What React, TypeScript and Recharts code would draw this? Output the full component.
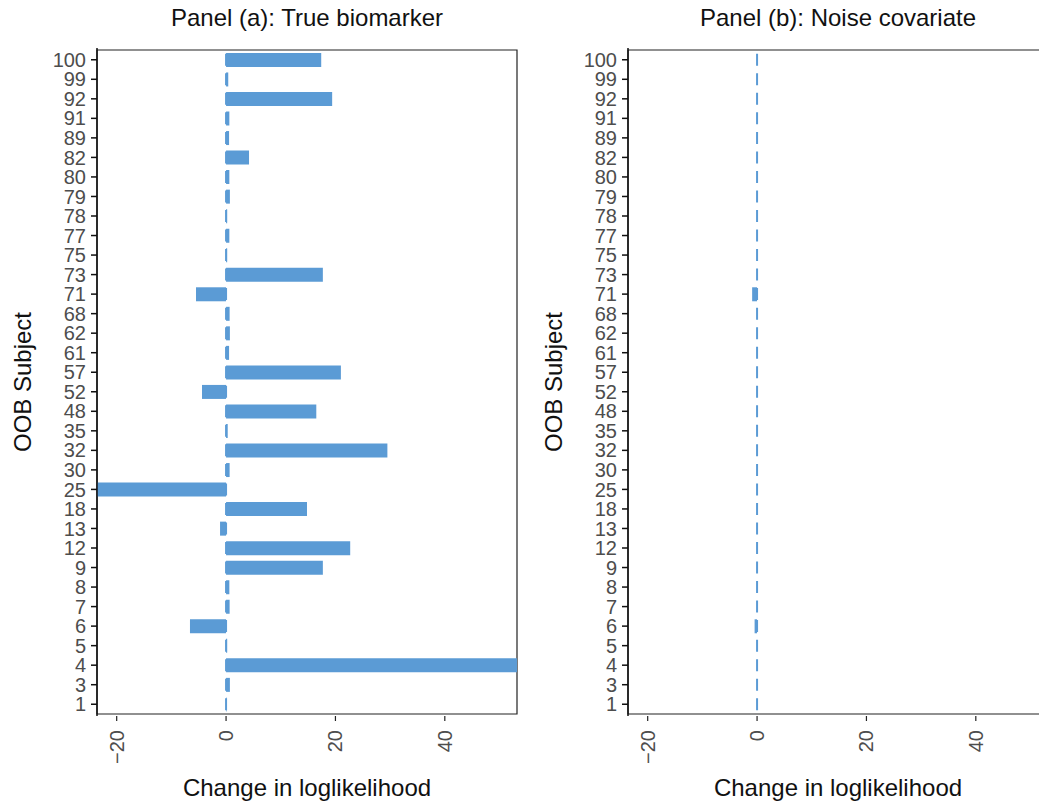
import { BarChart, Bar, XAxis, YAxis, ReferenceLine, ReferenceArea } from "recharts";

const subjects = [
  "100", "99", "92", "91", "89", "82", "80", "79", "78", "77",
  "75", "73", "71", "68", "62", "61", "57", "52", "48", "35",
  "32", "30", "25", "18", "13", "12", "9", "8", "7", "6",
  "5", "4", "3", "1",
];

// change in loglikelihood, panel (a)
const biomarker = [
  17.4, 0.4, 19.4, 0.6, 0.55, 4.2, 0.6, 0.7, 0.2, 0.6,
  0.2, 17.7, -5.5, 0.65, 0.7, 0.55, 21.0, -4.4, 16.5, 0.3,
  29.5, 0.65, -23.6, 14.8, -1.1, 22.7, 17.7, 0.6, 0.65, -6.6,
  0.2, 53.2, 0.7, 0.1,
];

// panel (b)
const noise = [
  0, 0, 0, 0, 0, 0, 0, 0, 0, 0,
  0, 0, -0.9, 0, 0, 0, 0, 0, 0, 0,
  0, 0, 0, 0, 0, 0, 0, 0, 0, -0.45,
  0, 0, 0, 0,
];

const xTicks = [-20, 0, 20, 40];
const xDomain: [number, number] = [-23.6, 53.2];

const BLUE = "#5B9BD5";
const FONT = '"Liberation Sans", Arial, Helvetica, sans-serif';

const W = 530;
const H = 805;
const TOP = 48;
const BOTTOM = 716;
const PAD = 2;
const band = (BOTTOM - TOP - 2 * PAD) / subjects.length;
const dash = 12;
const dashOffset = band - (PAD + band / 2 - dash / 2);

const fmt = (v: number) => (v < 0 ? "\u2212" + Math.abs(v) : String(v));

const XTick = (props: any) => {
  const { x, y, payload } = props;
  return (
    <text
      x={x}
      y={y}
      transform={`rotate(-90 ${x} ${y})`}
      textAnchor="end"
      dy="0.35em"
      fontSize={20}
      fill="#4D4D4D"
      fontFamily={FONT}
    >
      {fmt(payload.value)}
    </text>
  );
};

const titleStyle = {
  position: "absolute" as const,
  left: 97,
  width: 420,
  height: 24,
  lineHeight: "24px",
  textAlign: "center" as const,
  fontFamily: FONT,
  fontSize: 24,
  color: "#111",
  whiteSpace: "nowrap" as const,
};

function Panel({ title, values, left }: { title: string; values: number[]; left: number }) {
  const data = subjects.map((s, i) => ({ subject: s, value: values[i] }));
  return (
    <div style={{ position: "absolute", left, top: 0, width: W, height: H }}>
      <BarChart
        width={W}
        height={H}
        layout="vertical"
        data={data}
        barCategoryGap="15%"
        margin={{ top: TOP, right: W - 517, bottom: 29, left: 37 }}
      >
        <XAxis
          type="number"
          domain={xDomain}
          ticks={xTicks}
          allowDataOverflow
          height={60}
          tickSize={5}
          tickMargin={9}
          axisLine={false}
          tickLine={{ stroke: "#222", strokeWidth: 1.2 }}
          tick={<XTick />}
        />
        <YAxis
          type="category"
          dataKey="subject"
          width={60}
          interval={0}
          padding={{ top: PAD, bottom: PAD }}
          tickSize={6}
          tickMargin={5}
          axisLine={{ stroke: "#111", strokeWidth: 1.5 }}
          tickLine={{ stroke: "#111", strokeWidth: 1.5 }}
          tick={{ fontSize: 20, fill: "#4D4D4D", fontFamily: FONT }}
        />
        <ReferenceLine
          x={0}
          stroke={BLUE}
          strokeWidth={2}
          strokeDasharray={`${dash} ${band - dash}`}
          strokeDashoffset={dashOffset}
        />
        <Bar dataKey="value" fill={BLUE} isAnimationActive={false} />
        <ReferenceArea
          x1={xDomain[0]}
          x2={xDomain[1]}
          fill="none"
          fillOpacity={0}
          stroke="#222"
          strokeWidth={1.2}
        />
      </BarChart>
      <div style={{ ...titleStyle, top: 6 }}>{title}</div>
      <div style={{ ...titleStyle, top: 776 }}>Change in loglikelihood</div>
      <div
        style={{
          ...titleStyle,
          left: 23 - 100,
          top: 382 - 12,
          width: 200,
          transform: "rotate(-90deg)",
        }}
      >
        OOB Subject
      </div>
    </div>
  );
}

export default function App() {
  return (
    <div
      style={{
        position: "absolute",
        left: 0,
        top: 0,
        width: 1039,
        height: 805,
        overflow: "hidden",
        background: "#fff",
      }}
    >
      <Panel title="Panel (a): True biomarker" values={biomarker} left={0} />
      <Panel title="Panel (b): Noise covariate" values={noise} left={531} />
    </div>
  );
}
